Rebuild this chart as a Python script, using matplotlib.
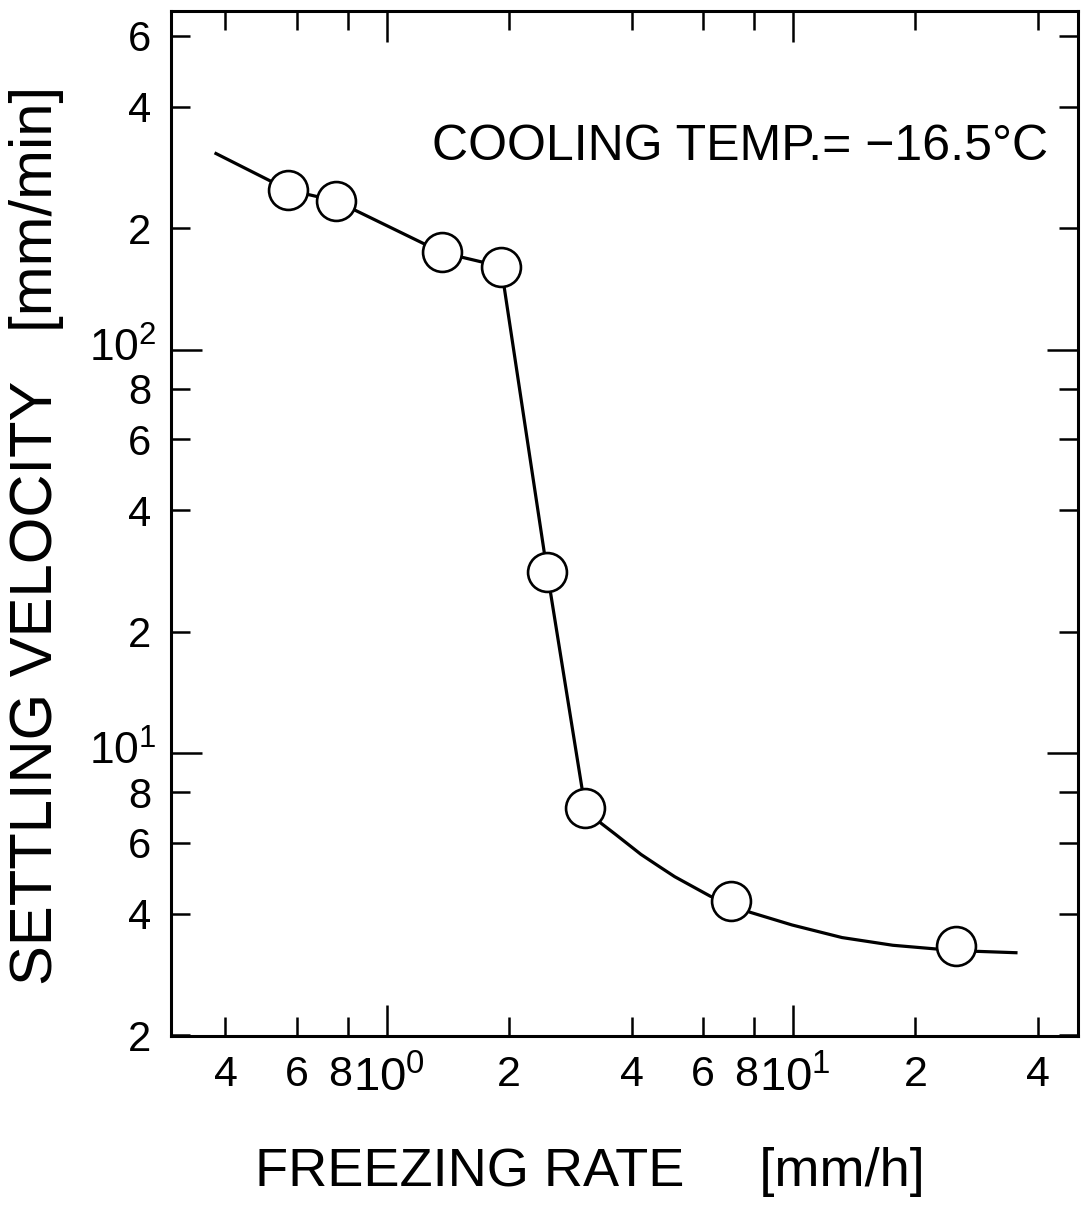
import matplotlib
matplotlib.use("Agg")
import matplotlib.pyplot as plt
from matplotlib.ticker import FixedLocator, FixedFormatter
from matplotlib.transforms import ScaledTranslation

plt.rcParams['font.family'] = ['Liberation Sans', 'DejaVu Sans']
plt.rcParams['mathtext.fontset'] = 'custom'
plt.rcParams['mathtext.rm'] = 'Liberation Sans'

# ---- data ----
freezing_rate = [0.570, 0.749, 1.364, 1.909, 2.48, 3.076, 7.05, 25.2]      # mm/h
settling_velocity = [249, 233.7, 174.2, 160.7, 28.1, 7.30, 4.30, 3.33]     # mm/min

curve_rate = [0.376, 0.570, 0.749, 1.364, 1.909, 2.48, 3.076, 3.36, 3.645,
              4.22, 4.70, 5.11, 6.25, 7.05, 7.85, 9.94, 13.2, 17.6, 22.5,
              25.2, 35.7]
curve_velocity = [307.6, 249, 233.7, 174.2, 160.7, 28.1, 7.30, 6.71, 6.30,
                  5.61, 5.22, 4.94, 4.42, 4.20, 4.03, 3.75, 3.49, 3.34, 3.27,
                  3.24, 3.20]

x_major_ticks = [1, 10]
x_major_labels = [r'$\mathregular{10^{0}}$', r'$\mathregular{10^{1}}$']
x_minor_ticks = [0.4, 0.6, 0.8, 2, 4, 6, 8, 20, 40]
x_minor_labels = ['4', '6', '8', '2', '4', '6', '8', '2', '4']

y_major_ticks = [10, 100]
y_major_labels = [r'$\mathregular{10^{1}}$', r'$\mathregular{10^{2}}$']
y_minor_ticks = [2, 4, 6, 8, 20, 40, 60, 80, 200, 400, 600]
y_minor_labels = ['2', '4', '6', '8', '2', '4', '6', '8', '2', '4', '6']

annotation = 'COOLING TEMP.= \u221216.5\u00b0C'
x_label = 'FREEZING RATE     [mm/h]'
y_label = 'SETTLING VELOCITY   [mm/min]'

# ---- figure ----
W, H = 1089, 1219
fig = plt.figure(figsize=(W / 100, H / 100), dpi=100)
ax = fig.add_axes([171 / W, 1 - 1036 / H, (1078 - 171) / W, (1036 - 11) / H])

ax.set_xscale('log')
ax.set_yscale('log')
ax.set_xlim(0.2937, 50.3)
ax.set_ylim(1.99, 691)

ax.plot(curve_rate, curve_velocity, color='black', lw=2.3, zorder=2,
        solid_capstyle='butt', solid_joinstyle='round')
ax.plot(freezing_rate, settling_velocity, linestyle='none', marker='o',
        markersize=28, markerfacecolor='white', markeredgecolor='black',
        markeredgewidth=1.9, zorder=3)

for axis, mt, ml, nt, nl in [(ax.xaxis, x_major_ticks, x_major_labels, x_minor_ticks, x_minor_labels),
                             (ax.yaxis, y_major_ticks, y_major_labels, y_minor_ticks, y_minor_labels)]:
    axis.set_major_locator(FixedLocator(mt))
    axis.set_major_formatter(FixedFormatter(ml))
    axis.set_minor_locator(FixedLocator(nt))
    axis.set_minor_formatter(FixedFormatter(nl))

ax.tick_params(which='both', direction='in', top=True, right=True,
               width=1.8, color='black')
ax.tick_params(which='major', length=22)
ax.tick_params(which='minor', length=14)
ax.tick_params(axis='x', which='major', labelsize=34, pad=9)
ax.tick_params(axis='x', which='minor', labelsize=31, pad=14)
ax.tick_params(axis='y', which='major', labelsize=32, pad=10)
ax.tick_params(axis='y', which='minor', labelsize=30, pad=14)

for s in ax.spines.values():
    s.set_linewidth(2.2)

# small label nudges like the original lettering
def nudge(label, dx_px, dy_px):
    label.set_transform(label.get_transform() +
                        ScaledTranslation(dx_px / 100, dy_px / 100, fig.dpi_scale_trans))

for t in ax.xaxis.get_major_ticks():
    nudge(t.label1, 2, -8)
for i, t in enumerate(ax.xaxis.get_minor_ticks()):
    if x_minor_labels[i] == '8':
        nudge(t.label1, -8, 0)
for t in ax.yaxis.get_major_ticks():
    nudge(t.label1, 0, 5)

fig.text(432 / W, 1 - 147 / H, annotation, fontsize=36, ha='left', va='center')
fig.text(590 / W, 1 - 1172 / H, x_label, fontsize=39, ha='center', va='center')
fig.text(37 / W, 1 - 535 / H, y_label, fontsize=43, ha='center', va='center',
         rotation=90)

fig.savefig('out.png', dpi=100, facecolor='white')
